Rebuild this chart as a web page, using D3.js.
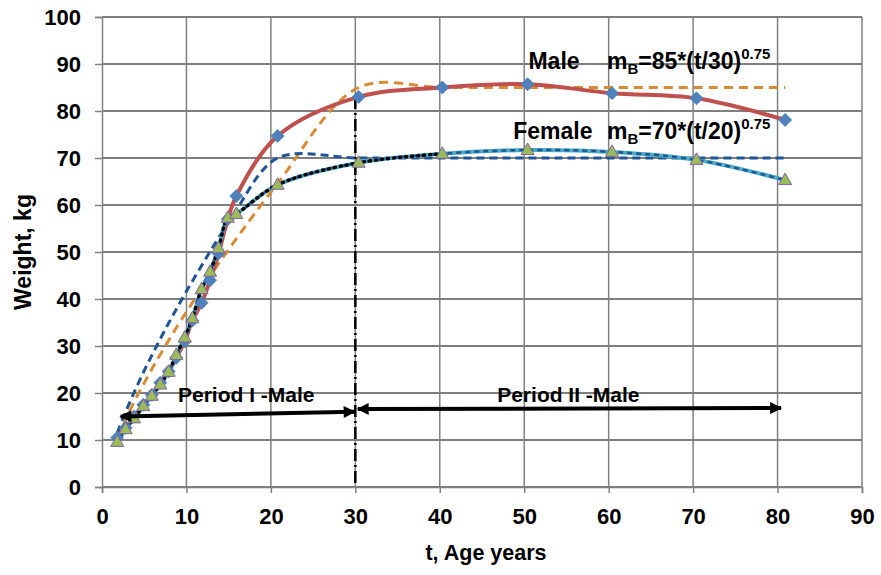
<!DOCTYPE html>
<meta charset="utf-8">
<style>
body { margin: 0; background: #fff; }
text { font-family: "Liberation Sans", Arial, sans-serif; font-weight: bold; fill: #000; }
</style>
<body>
<svg width="881" height="575"></svg>
<script src="https://d3js.org/d3.v7.min.js"></script>
<script>

// ages (years) at which weights were plotted
var ages = [1.8, 2.8, 3.8, 4.9, 5.9, 6.9, 7.9, 8.8, 9.8, 10.7, 11.8, 12.8, 13.8, 14.9, 15.9, 20.8, 30.4, 40.3, 50.4, 60.4, 70.4, 80.9];

// measured weights, kg
var maleWeight   = [10.5, 12.6, 15.0, 17.5, 19.6, 22.2, 24.6, 27.5, 31.0, 35.4, 39.2, 44.0, 49.7, 57.0, 61.9, 74.7, 83.0, 85.0, 85.7, 83.8, 82.7, 78.1];
var femaleWeight = [9.6, 12.3, 14.6, 17.2, 19.4, 21.8, 24.5, 28.1, 31.8, 35.9, 42.1, 45.8, 50.8, 57.3, 58.1, 64.3, 69.0, 70.9, 71.7, 71.3, 69.6, 65.3];

// model curves mB = 85*(t/30)^0.75 and mB = 70*(t/20)^0.75
var maleModel   = [10.3, 14.3, 18.1, 21.8, 25.1, 28.2, 31.2, 33.9, 36.7, 39.2, 42.2, 44.9, 47.5, 50.3, 52.8, 64.6, 85, 85, 85, 85, 85, 85];
var femaleModel = [11.5, 16.0, 20.1, 24.4, 28.0, 31.5, 34.9, 37.8, 41.0, 43.8, 47.1, 50.1, 53.0, 56.1, 58.9, 70, 70, 70, 70, 70, 70, 70];

var xTickValues = [0, 10, 20, 30, 40, 50, 60, 70, 80, 90];
var yTickValues = [0, 10, 20, 30, 40, 50, 60, 70, 80, 90, 100];

var svg = d3.select("svg");
var margin = {left: 102, right: 19, top: 17, bottom: 88};
var width = 881, height = 575;

var x = d3.scaleLinear().domain([0, 90]).range([margin.left, width - margin.right]);
var y = d3.scaleLinear().domain([0, 100]).range([height - margin.bottom, margin.top]);

// grid
svg.append("g").selectAll("line")
    .data(yTickValues)
    .enter().append("line")
      .attr("x1", x(0)).attr("x2", x(90))
      .attr("y1", function(d) { return y(d); }).attr("y2", function(d) { return y(d); })
      .attr("stroke", "#000").attr("stroke-width", 1.2);

svg.append("g").selectAll("line")
    .data(xTickValues.filter(function(d) { return d > 0; }))
    .enter().append("line")
      .attr("x1", function(d) { return x(d); }).attr("x2", function(d) { return x(d); })
      .attr("y1", y(0)).attr("y2", y(100))
      .attr("stroke", "#808080").attr("stroke-width", 1.5);

// axes
var xAxis = svg.append("g")
    .attr("transform", "translate(0," + y(0) + ")")
    .call(d3.axisBottom(x).tickValues(xTickValues).tickSize(6).tickPadding(15));
var yAxis = svg.append("g")
    .attr("transform", "translate(" + x(0) + ",0)")
    .call(d3.axisLeft(y).tickValues(yTickValues).tickSize(7).tickPadding(14));

[xAxis, yAxis].forEach(function(a) {
  a.select(".domain").attr("stroke", "#808080").attr("stroke-width", 1.5);
  a.selectAll(".tick line").attr("stroke", "#808080").attr("stroke-width", 1.5);
  a.selectAll("text").style("font-size", "22px").style("font-family", "'Liberation Sans', Arial, sans-serif").style("font-weight", "bold").attr("fill", "#000");
});
yAxis.selectAll("text").attr("dy", "0.36em");

svg.append("text")
    .attr("x", 486)
    .attr("y", 560)
    .attr("text-anchor", "middle")
    .style("font-size", "21.5px")
    .text("t, Age years");

svg.append("text")
    .attr("transform", "translate(31," + y(50) + ") rotate(-90)")
    .attr("text-anchor", "middle")
    .style("font-size", "23px")
    .text("Weight, kg");

// period divider
svg.append("line")
    .attr("x1", x(30)).attr("x2", x(30))
    .attr("y1", y(83)).attr("y2", y(0))
    .attr("stroke", "#000").attr("stroke-width", 2.5)
    .attr("stroke-dasharray", "12,4,2,4");

var smooth = d3.line()
    .x(function(d) { return x(d[0]); })
    .y(function(d) { return y(d[1]); })
    .curve(d3.curveCatmullRom.alpha(0.5));

function pairs(vals) { return ages.map(function(a, i) { return [a, vals[i]]; }); }

// models
svg.append("path").datum(pairs(maleModel))
    .attr("d", smooth).attr("fill", "none")
    .attr("stroke", "#D98A35").attr("stroke-width", 3).attr("stroke-dasharray", "9,6");

svg.append("path").datum(pairs(femaleModel))
    .attr("d", smooth).attr("fill", "none")
    .attr("stroke", "#1F5594").attr("stroke-width", 3).attr("stroke-dasharray", "8,5");

// male data
svg.append("path").datum(pairs(maleWeight))
    .attr("d", smooth).attr("fill", "none")
    .attr("stroke", "#C0504D").attr("stroke-width", 4);

// female data
svg.append("path").datum(pairs(femaleWeight))
    .attr("d", smooth).attr("fill", "none")
    .attr("stroke", "#4BACC6").attr("stroke-width", 4);
svg.append("path").datum(pairs(femaleWeight))
    .attr("d", smooth).attr("fill", "none")
    .attr("stroke", "#1F5594").attr("stroke-width", 2.5).attr("stroke-dasharray", "5,4");
svg.append("path").datum(pairs(femaleWeight).filter(function(d) { return d[0] < 41; }))
    .attr("d", smooth).attr("fill", "none")
    .attr("stroke", "#000").attr("stroke-width", 3.5)
    .attr("stroke-linecap", "round").attr("stroke-dasharray", "1,5");

// markers
svg.append("g").selectAll("path")
    .data(pairs(maleWeight))
    .enter().append("path")
      .attr("transform", function(d) { return "translate(" + x(d[0]) + "," + y(d[1]) + ")"; })
      .attr("d", "M0,-6.5L6.5,0L0,6.5L-6.5,0Z")
      .attr("fill", "#4F81BD").attr("stroke", "#4A7EBB").attr("stroke-width", 0.8);

svg.append("g").selectAll("path")
    .data(pairs(femaleWeight))
    .enter().append("path")
      .attr("transform", function(d) { return "translate(" + x(d[0]) + "," + y(d[1]) + ")"; })
      .attr("d", "M0,-7L6.5,4.5L-6.5,4.5Z")
      .attr("fill", "#9BBB59").attr("stroke", "#8064A2").attr("stroke-width", 1);

// period arrows
var defs = svg.append("defs");
defs.append("marker")
    .attr("id", "head").attr("viewBox", "0 0 10 10")
    .attr("refX", 9).attr("refY", 5)
    .attr("markerWidth", 3.2).attr("markerHeight", 3)
    .attr("markerUnits", "strokeWidth")
    .attr("orient", "auto-start-reverse")
  .append("path").attr("d", "M0,0L10,5L0,10Z").attr("fill", "#000");

var arrows = [
  {x1: 2.2, y1: 15.0, x2: 29.9, y2: 16.0},
  {x1: 30.3, y1: 16.6, x2: 80.4, y2: 16.8}
];
svg.append("g").selectAll("line")
    .data(arrows)
    .enter().append("line")
      .attr("x1", function(d) { return x(d.x1); }).attr("y1", function(d) { return y(d.y1); })
      .attr("x2", function(d) { return x(d.x2); }).attr("y2", function(d) { return y(d.y2); })
      .attr("stroke", "#000").attr("stroke-width", 4)
      .attr("marker-start", "url(#head)").attr("marker-end", "url(#head)");

svg.append("text").attr("x", x(9.0)).attr("y", y(18.1)).style("font-size", "21px").text("Period I -Male");
svg.append("text").attr("x", x(46.8)).attr("y", y(18.1)).style("font-size", "21px").text("Period II -Male");

// labels with formulae
function formula(t, w, m, num, den) {
  var g = svg.append("text").attr("x", x(t)).attr("y", y(w)).style("font-size", "23px");
  g.append("tspan").text("m");
  g.append("tspan").attr("dy", 5).style("font-size", "15px").text("B");
  g.append("tspan").attr("dy", -5).text("=" + m + "*(t/" + den + ")");
  g.append("tspan").attr("dy", -10).style("font-size", "15px").text(num);
}
svg.append("text").attr("x", x(50.5)).attr("y", y(88.9)).style("font-size", "23px").text("Male");
formula(59.8, 88.9, 85, "0.75", 30);
svg.append("text").attr("x", x(48.7)).attr("y", y(74.0)).style("font-size", "23px").text("Female");
formula(59.8, 74.0, 70, "0.75", 20);

</script>
</body>
